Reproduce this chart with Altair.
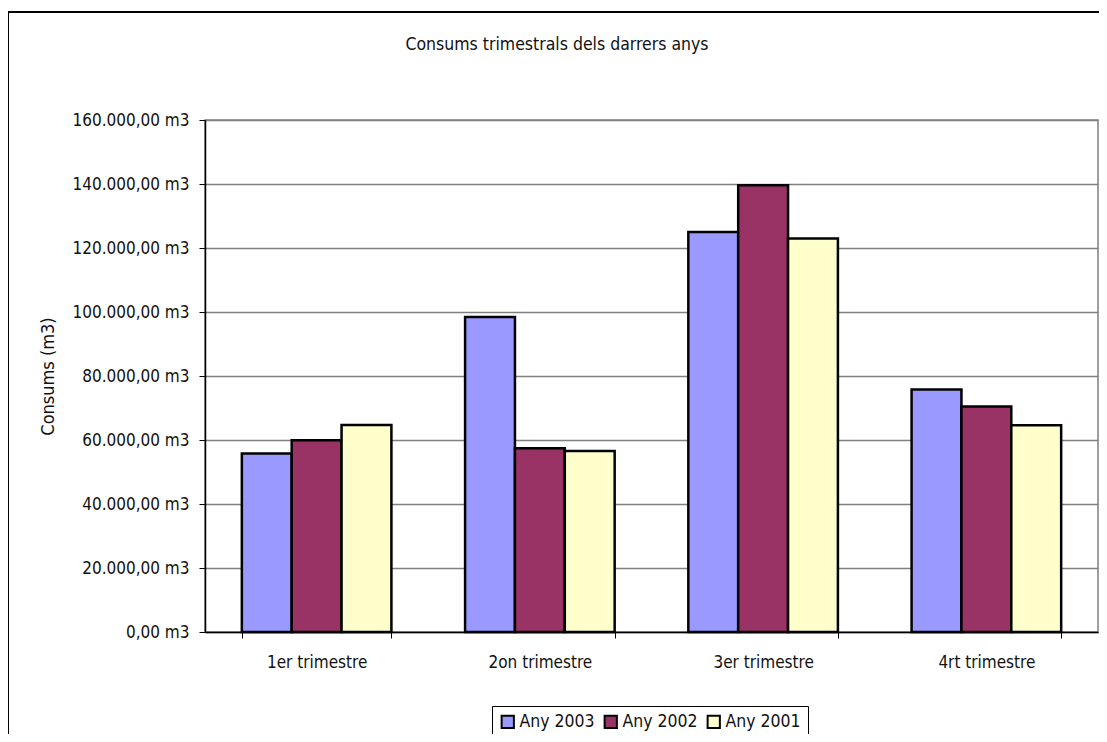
import altair as alt
import pandas as pd

quarters = ["1er trimestre", "2on trimestre", "3er trimestre", "4rt trimestre"]
series = ["Any 2003", "Any 2002", "Any 2001"]
any_2003 = [55800, 98400, 125000, 75800]
any_2002 = [59900, 57400, 139600, 70500]
any_2001 = [64700, 56600, 123000, 64600]
colors = ["#9999FF", "#993366", "#FFFFCC"]
y_ticks = [0, 20000, 40000, 60000, 80000, 100000, 120000, 140000, 160000]
title_text = "Consums trimestrals dels darrers anys"

rows = []
for s, vals in zip(series, [any_2003, any_2002, any_2001]):
    for q, v in zip(quarters, vals):
        rows.append({"Trimestre": q, "Any": s, "Consum": v})
df = pd.DataFrame(rows)

FONT = "DejaVu Sans Condensed"
W, H = 893, 512

label_expr = ("replace(replace(replace(format(datum.value, ',.2f'), ',', '#'), '.', ','), '#', '.') + ' m3'")

bars = alt.Chart(df).mark_bar(stroke="black", strokeWidth=2.5, opacity=1).encode(
    x=alt.X("Trimestre:N", sort=quarters, title=None,
            scale=alt.Scale(paddingInner=0.33, paddingOuter=0.165),
            axis=alt.Axis(labelAngle=0, tickBand="extent", tickSize=6, tickColor="black",
                          domainColor="black", domainWidth=1.5, labelFontSize=17,
                          labelPadding=16, labelColor="#111", grid=False)),
    xOffset=alt.XOffset("Any:N", sort=series),
    y=alt.Y("Consum:Q", title="Consums (m3)",
            scale=alt.Scale(domain=[0, 160000], nice=False),
            axis=alt.Axis(values=y_ticks, labelExpr=label_expr, tickSize=6, tickColor="black",
                          domainColor="black", domainWidth=1.5, gridColor="#808080",
                          gridWidth=1.5, labelFontSize=17, labelPadding=10,
                          labelColor="#111", titleFontSize=18, titleFontWeight="normal",
                          titleColor="#111", titlePadding=14)),
    color=alt.Color("Any:N", sort=series, scale=alt.Scale(domain=series, range=colors),
                    legend=alt.Legend(title=None, orient="none", legendX=287, legendY=586,
                                      direction="horizontal", symbolType="square",
                                      symbolSize=150, symbolStrokeColor="black",
                                      symbolStrokeWidth=2, labelFontSize=17.5,
                                      labelColor="#111", strokeColor="black",
                                      padding=7, columnPadding=5, labelOffset=3,
                                      fillColor="white")),
)

frame_top = alt.Chart().mark_rule(color="black", strokeWidth=2).encode(
    x=alt.value(-197), x2=alt.value(902), y=alt.value(-108))
frame_left = alt.Chart().mark_rule(color="black", strokeWidth=2).encode(
    x=alt.value(-197), y=alt.value(-108), y2=alt.value(640))
title = alt.Chart().mark_text(fontSize=17.5, color="#111", align="center",
                              baseline="middle").encode(
    x=alt.value(352), y=alt.value(-75), text=alt.value(title_text))

chart = alt.layer(frame_top, frame_left, bars, title).properties(
    width=W, height=H,
    autosize=alt.AutoSizeParams(type="none"),
    padding={"left": 197, "top": 112, "right": 1, "bottom": 102},
).configure(font=FONT).configure_view(stroke="#808080", strokeWidth=1.5)

chart.save("out.html", embed_options={"renderer": "svg", "actions": False})
